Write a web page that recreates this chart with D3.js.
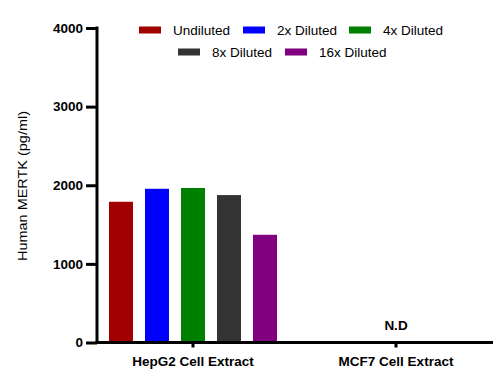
<!DOCTYPE html>
<html><head><meta charset="utf-8">
<script src="https://cdn.jsdelivr.net/npm/d3@7"></script>
<style>body{margin:0;background:#fff}svg{display:block}text{font-family:"Liberation Sans",Arial,sans-serif}</style>
</head><body>
<script>
const groups = ["HepG2 Cell Extract", "MCF7 Cell Extract"];
const series = ["Undiluted", "2x Diluted", "4x Diluted", "8x Diluted", "16x Diluted"];
const colors = ["#a00000", "#0000ff", "#008000", "#333333", "#800080"];
const hepg2Values = [1790, 1955, 1965, 1875, 1370];
const mcf7Values = [null, null, null, null, null];
const yTicks = [0, 1000, 2000, 3000, 4000];
const ndLabel = "N.D";
const yTitle = "Human MERTK (pg/ml)";

const W = 501, H = 384;
const svg = d3.select("body").append("svg").attr("width", W).attr("height", H);
const font = "'Liberation Sans', Arial, sans-serif";

const x0 = d3.scaleBand().domain(groups).range([97, 493]);
const y = d3.scaleLinear().domain([0, 4000]).range([342.5, 28]);
const x1 = d3.scaleBand().domain(series).range([-84, 84]).paddingInner(1/3).paddingOuter(0);
const groupCenter = [193, 396];

const data = [hepg2Values, mcf7Values];
groups.forEach((g, gi) => {
  const cx = groupCenter[gi];
  series.forEach((s, si) => {
    const v = data[gi][si];
    if (v == null) return;
    svg.append("rect")
      .attr("x", cx + x1(s))
      .attr("width", x1.bandwidth())
      .attr("y", y(v))
      .attr("height", y(0) - y(v))
      .attr("fill", colors[si]);
  });
});

// y axis
const yAxis = svg.append("g").attr("transform", "translate(97,0)")
  .call(d3.axisLeft(y).tickValues(yTicks).tickSize(11).tickPadding(3).tickFormat(d3.format("d")));
yAxis.select(".domain").attr("stroke-width", 3).attr("d", `M0,${y(4000)-1.5}V${y(0)+1.5}`);
yAxis.selectAll(".tick line").attr("stroke-width", 3);
yAxis.selectAll("text").attr("font-family", font).attr("font-size", 13.5).attr("font-weight", "bold").attr("fill", "#000");

// x axis
const xAxis = svg.append("g").attr("transform", `translate(0,${y(0)})`)
  .call(d3.axisBottom(x0).tickSize(0).tickPadding(14));
xAxis.select(".domain").attr("stroke-width", 3).attr("d", `M95.5,0H493`);
xAxis.selectAll(".tick").attr("transform", (d, i) => `translate(${groupCenter[i]},0)`);
xAxis.selectAll(".tick").append("rect").attr("x", -1.5).attr("y", 0).attr("width", 3).attr("height", 5).attr("fill", "#000");
xAxis.selectAll("text").attr("font-family", font).attr("font-size", 13.5).attr("font-weight", "bold").attr("fill", "#000");

// N.D
svg.append("text").attr("x", groupCenter[1]).attr("y", 330).attr("text-anchor", "middle")
  .attr("font-family", font).attr("font-size", 13.5).attr("font-weight", "bold").text(ndLabel);

// y title
svg.append("text").attr("transform", "translate(27,186) rotate(-90)").attr("text-anchor", "middle")
  .attr("font-family", font).attr("font-size", 13.5).attr("fill", "#000")
  .attr("textLength", 150).attr("lengthAdjust", "spacingAndGlyphs").text(yTitle);

// legend
const legendPos = [[139, 30], [243, 30], [349, 30], [178, 52], [285, 52]];
series.forEach((s, i) => {
  const [lx, ly] = legendPos[i];
  svg.append("rect").attr("x", lx).attr("y", ly - 3.5).attr("width", 22).attr("height", 7).attr("fill", colors[i]);
  svg.append("text").attr("x", lx + 34).attr("y", ly + 5).attr("font-family", font).attr("font-size", 13.5).attr("fill", "#000").text(s);
});
</script>
</body></html>
